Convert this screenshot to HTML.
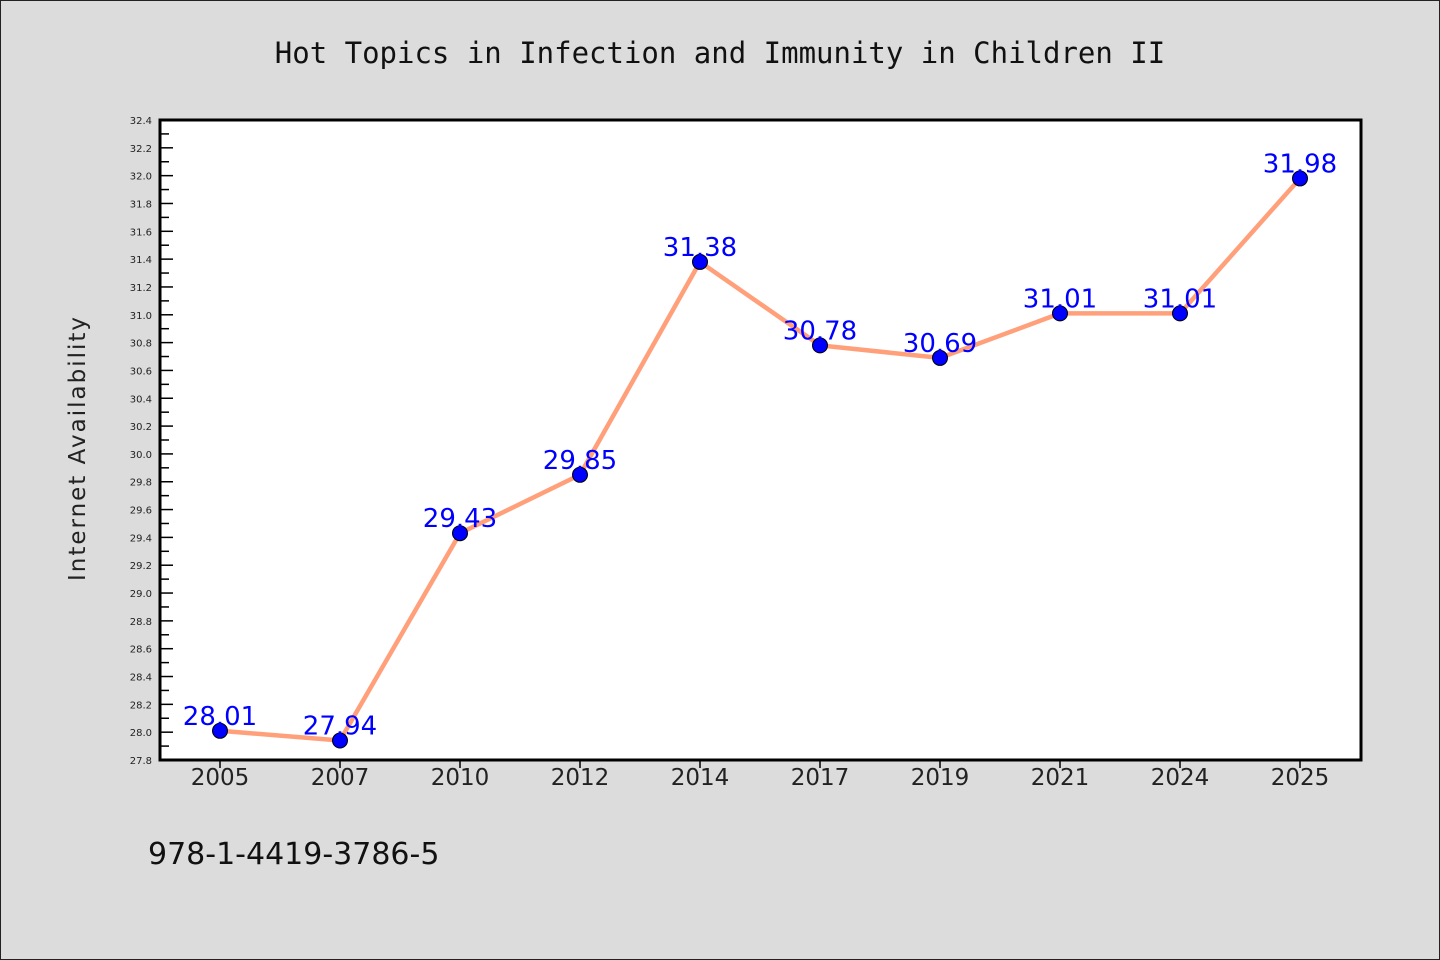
<!DOCTYPE html>
<html><head><meta charset="utf-8"><style>
html,body{margin:0;padding:0;background:#dcdcdc;}
svg{display:block;font-family:"DejaVu Sans","Liberation Sans",sans-serif;}
</style></head><body>
<svg id="chart" width="1440" height="960" viewBox="0 0 1440 960">
<rect x="0.5" y="0.5" width="1439" height="959" fill="#dcdcdc" stroke="#222"/>
<text x="720" y="63" text-anchor="middle" font-family="DejaVu Sans Mono, Liberation Mono, monospace" font-size="29" fill="#111">Hot Topics in Infection and Immunity in Children II</text>
<rect x="160" y="120" width="1201" height="640" fill="#fff"/>
<text transform="translate(85,448) rotate(-90)" text-anchor="middle" font-size="23" fill="#222" letter-spacing="2">Internet Availability</text>
<text x="148" y="864" font-size="30" fill="#111">978-1-4419-3786-5</text>
<g id="axes"></g>
<g id="series"></g>
<rect x="160" y="120" width="1201" height="640" fill="none" stroke="#000" stroke-width="3"/>
</svg>
<script>
const categories = ["2005","2007","2010","2012","2014","2017","2019","2021","2024","2025"];
const values = [28.01, 27.94, 29.43, 29.85, 31.38, 30.78, 30.69, 31.01, 31.01, 31.98];
const valueLabels = ["28.01","27.94","29.43","29.85","31.38","30.78","30.69","31.01","31.01","31.98"];
const yTicks = [27.8,28.0,28.2,28.4,28.6,28.8,29.0,29.2,29.4,29.6,29.8,30.0,30.2,30.4,30.6,30.8,31.0,31.2,31.4,31.6,31.8,32.0,32.2,32.4];
const yMin = 27.8, yMax = 32.4;
const NS = "http://www.w3.org/2000/svg";
const L = 160, R = 1361, T = 120, B = 760;
function y(v){ return B - (v - yMin) / (yMax - yMin) * (B - T); }
function x(i){ return 220 + i * (1300 - 220) / (categories.length - 1); }
function mk(tag, attrs, parent){ const e = document.createElementNS(NS, tag); for (const k in attrs) e.setAttribute(k, attrs[k]); parent.appendChild(e); return e; }
const axes = document.getElementById('axes');
const series = document.getElementById('series');
yTicks.forEach((t, i) => {
  const yy = y(t);
  const ln = mk('line', {x1: L, x2: L + 13, y1: yy, y2: yy, stroke: '#000', 'stroke-width': 1.5}, axes);
  
  
  if (i < yTicks.length - 1) {
    const ym = y(t + 0.1);
    const mn = mk('line', {x1: L, x2: L + 9, y1: ym, y2: ym, stroke: '#000', 'stroke-width': 1.5}, axes);
    
    
  }
  const tx = mk('text', {x: 152, y: yy + 4, 'text-anchor': 'end', 'font-size': 10, fill: '#222'}, axes);
  tx.textContent = t.toFixed(1);
  
  
});
categories.forEach((c, i) => {
  const xx = x(i);
  const tk = mk('line', {x1: xx, x2: xx, y1: B, y2: B + 8, stroke: '#000', 'stroke-width': 1.5}, axes);
  
  
  const tx = mk('text', {x: xx, y: 785, 'text-anchor': 'middle', 'font-size': 23, fill: '#222'}, axes);
  tx.textContent = c;
  
  
});
const line = mk('polyline', {points: values.map((v, i) => x(i) + ',' + y(v)).join(' '), fill: 'none', stroke: '#ffa07a', 'stroke-width': 4.5, 'stroke-linejoin': 'round'}, series);


values.forEach((v, i) => {
  const pt = mk('circle', {cx: x(i), cy: y(v), r: 7.5, fill: '#0000ff', stroke: '#000', 'stroke-width': 1}, series);
  
  
});
values.forEach((v, i) => {
  const lb = mk('text', {x: x(i), y: y(v) - 6, 'text-anchor': 'middle', 'font-size': 26, fill: '#0000ff'}, series);
  lb.textContent = valueLabels[i];
  
  
});
</script>
</body></html>
